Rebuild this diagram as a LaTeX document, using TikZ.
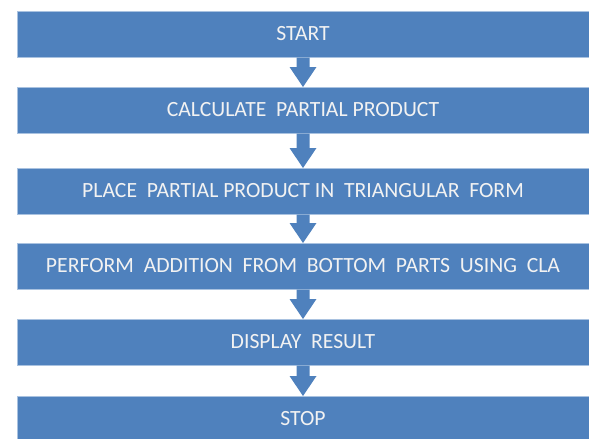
\documentclass[tikz,border=0pt]{standalone}
\usepackage{fontspec}
\setmainfont{Carlito}
\usetikzlibrary{calc}
\definecolor{boxblue}{HTML}{4F81BD}
\definecolor{boxedge}{HTML}{A9C2E0}
\definecolor{boxtext}{HTML}{F2F2F2}
\tikzset{
  stepbox/.style={fill=boxblue, draw=boxedge, line width=0.7pt, minimum width=580pt,
    minimum height=46pt, anchor=north west, inner sep=0pt},
  steplabel/.style={text=boxtext, font=\fontsize{21.7}{24}\selectfont},
  flowarrow/.style={fill=boxblue, draw=none}
}
\newcommand{\gap}{\hspace{0.45em}}
\begin{document}
\begin{tikzpicture}[x=1pt, y=-1pt]
  \useasboundingbox (0,0) rectangle (589,439);
  \clip (0,0) rectangle (589,439);
  % the six process steps, top to bottom
  \node[stepbox] (s1) at (17,11)  {};
  \node[stepbox] (s2) at (17,87)  {};
  \node[stepbox] (s3) at (17,168) {};
  \node[stepbox] (s4) at (17,243) {};
  \node[stepbox] (s5) at (17,319) {};
  \node[stepbox] (s6) at (17,396) {};
  % labels, centred on the visible part of each box
  \node[steplabel] (t1) at (303,34)    {START};
  \node[steplabel] (t2) at (303,110)   {CALCULATE\gap PARTIAL PRODUCT};
  \node[steplabel] (t3) at (303,191)   {PLACE\gap PARTIAL PRODUCT IN\gap TRIANGULAR\gap FORM};
  \node[steplabel] (t4) at (303,265.5) {PERFORM\gap ADDITION\gap FROM\gap BOTTOM\gap PARTS\gap USING\gap CLA};
  \node[steplabel] (t5) at (303,342)   {DISPLAY\gap RESULT};
  \node[steplabel] (t6) at (303,419)   {STOP};
  % block arrows between consecutive steps
  \foreach \a/\b in {s1/s2, s2/s3, s3/s4, s4/s5, s5/s6} {
    \path let \p1 = (\a.south), \p2 = (\b.north) in
      [flowarrow] (303-6.5,\y1) -- (303+6.5,\y1) -- (303+6.5,\y2+20)
      -- (303+13.5,\y2+20) -- (303,\y2) -- (303-13.5,\y2+20)
      -- (303-6.5,\y2+20) -- cycle;
  }
\end{tikzpicture}
\end{document}
